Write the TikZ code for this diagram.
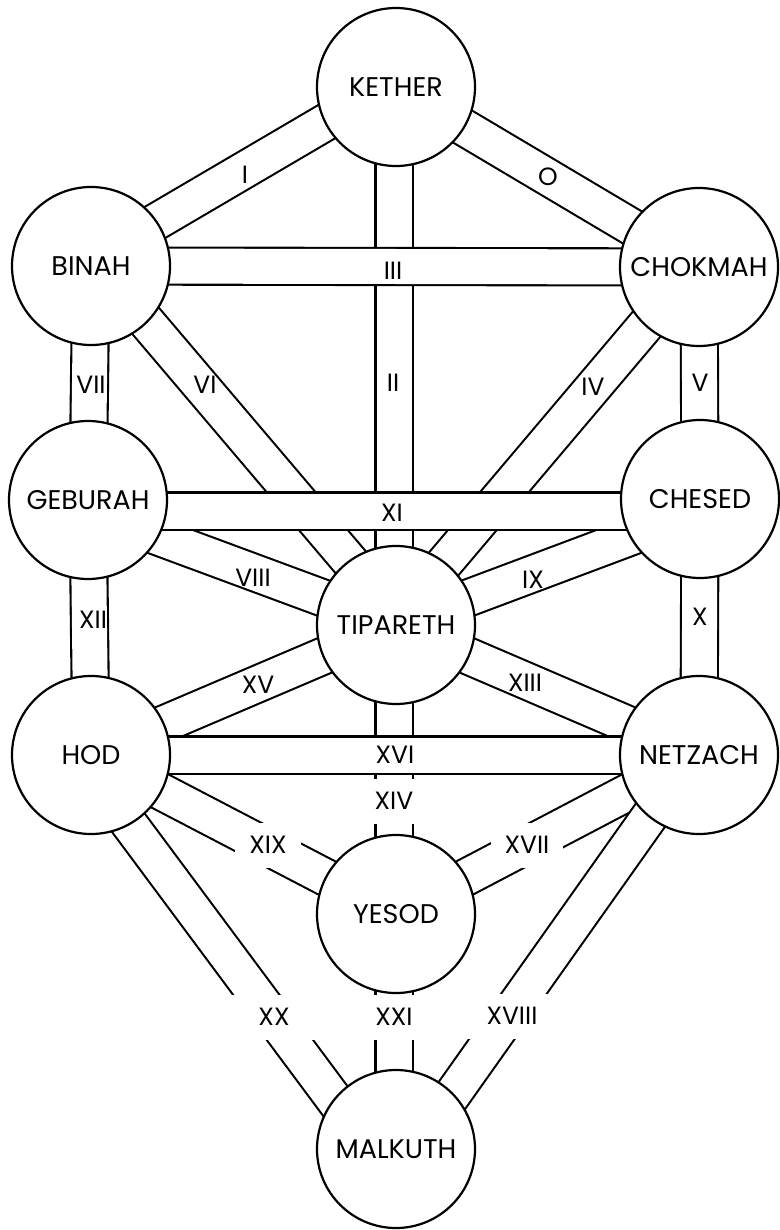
\documentclass[tikz,border=0pt]{standalone}
\usepackage{fontspec}
\setmainfont{Poppins}
\usetikzlibrary{backgrounds}

\begin{document}
\begin{tikzpicture}[
    x=1pt, y=-1pt,
    sefira/.style={circle, draw, fill=white, line width=2.2pt, minimum size=158pt,
        inner sep=0pt, font=\fontsize{27}{30}\selectfont},
    band/.style={line width=2.1pt, double=white, double distance=35pt},
    numeral/.style={inner sep=0pt, font=\fontsize{25}{28}\selectfont},
    gap/.style={numeral, fill=white, inner xsep=14pt, minimum height=45pt},
    lowgap/.style={gap, minimum width=100pt},
]
    \useasboundingbox (0,0) rectangle (779,1230);
    \node[sefira] (ket) at (396,87) {KETHER};
    \node[sefira] (bin) at (91,266) {BINAH};
    \node[sefira] (cho) at (699,267) {CHOKMAH};
    \node[sefira] (geb) at (88,500) {GEBURAH};
    \node[sefira] (che) at (700,499) {CHESED};
    \node[sefira] (tip) at (396,625) {TIPARETH};
    \node[sefira] (hod) at (91,755) {HOD};
    \node[sefira] (net) at (699,755) {NETZACH};
    \node[sefira] (yes) at (396,914) {YESOD};
    \node[sefira] (mal) at (396,1149) {MALKUTH};
    \begin{scope}[on background layer]
        \foreach \a/\b in {ket/tip, tip/yes, yes/mal}
            \draw[band] ([xshift=-2pt]\a.center) -- ([xshift=-2pt]\b.center);
        \draw[band] ([xshift=8pt]bin.center) -- ([xshift=8pt]tip.center);
        \draw[band] ([xshift=-4pt]cho.center) -- ([xshift=-4pt]tip.center);
        \draw[band] ([yshift=-11pt]geb.center) -- (tip.center);
        \draw[band] ([yshift=-12pt]che.center) -- (tip.center);
        \draw[band] ([yshift=-11pt]geb.center) -- ([yshift=-12pt]che.center);
        \draw[band] ([yshift=6pt]ket.center) -- ([yshift=6pt]bin.center);
        \foreach \a/\b in {bin/cho, ket/cho, bin/geb, cho/che, geb/hod, che/net,
            hod/tip, tip/net, hod/net, hod/yes, net/yes}
            \draw[band] (\a.center) -- (\b.center);
        \draw[band] ([xshift=-13pt]hod.center) -- ([xshift=-25pt]mal.center);
        \draw[band] ([xshift=-6pt]net.center) -- ([xshift=18pt]mal.center);
        \node[gap] (p14) at (394,801) {XIV};
        \node[gap] (p19) at (268,845) {XIX};
        \node[gap] (p17) at (527,845) {XVII};
        \node[lowgap] (p20) at (274,1017) {XX};
        \node[lowgap] (p21) at (394,1017) {XXI};
        \node[lowgap] (p18) at (512,1016) {XVIII};
    \end{scope}
    \node[numeral] (p1) at (245,175) {I};
    \node[numeral] (p0) at (548,177) {O};
    \node[numeral] (p3) at (393,271) {III};
    \node[numeral] (p2) at (393,383) {II};
    \node[numeral] (p7) at (91,385) {VII};
    \node[numeral] (p6) at (205,385) {VI};
    \node[numeral] (p4) at (593,387) {IV};
    \node[numeral] (p5) at (700,383) {V};
    \node[numeral] (p11) at (392,513) {XI};
    \node[numeral] (p8) at (253,578) {VIII};
    \node[numeral] (p9) at (533,580) {IX};
    \node[numeral] (p12) at (93,620) {XII};
    \node[numeral] (p10) at (700,617) {X};
    \node[numeral] (p15) at (258,685) {XV};
    \node[numeral] (p13) at (525,683) {XIII};
    \node[numeral] (p16) at (395,755) {XVI};
\end{tikzpicture}
\end{document}
